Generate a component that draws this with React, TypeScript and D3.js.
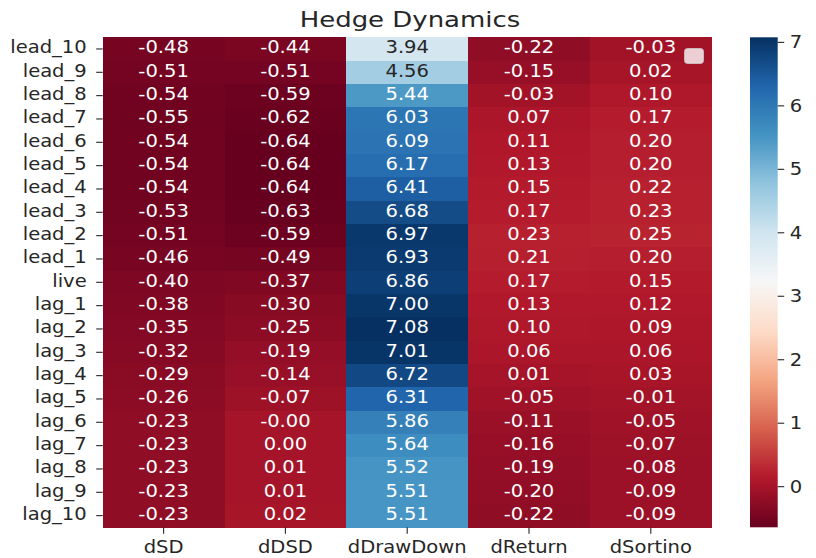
import React from "react";
import * as d3 from "d3";

const rows = ["lead_10","lead_9","lead_8","lead_7","lead_6","lead_5","lead_4","lead_3","lead_2","lead_1","live","lag_1","lag_2","lag_3","lag_4","lag_5","lag_6","lag_7","lag_8","lag_9","lag_10"];
const columns = ["dSD","dDSD","dDrawDown","dReturn","dSortino"];

const dSD = [-0.48,-0.51,-0.54,-0.55,-0.54,-0.54,-0.54,-0.53,-0.51,-0.46,-0.40,-0.38,-0.35,-0.32,-0.29,-0.26,-0.23,-0.23,-0.23,-0.23,-0.23];
const dDSD = [-0.44,-0.51,-0.59,-0.62,-0.64,-0.64,-0.64,-0.63,-0.59,-0.49,-0.37,-0.30,-0.25,-0.19,-0.14,-0.07,-0.001,0.00,0.01,0.01,0.02];
const dDrawDown = [3.94,4.56,5.44,6.03,6.09,6.17,6.41,6.68,6.97,6.93,6.86,7.00,7.08,7.01,6.72,6.31,5.86,5.64,5.52,5.51,5.51];
const dReturn = [-0.22,-0.15,-0.03,0.07,0.11,0.13,0.15,0.17,0.23,0.21,0.17,0.13,0.10,0.06,0.01,-0.05,-0.11,-0.16,-0.19,-0.20,-0.22];
const dSortino = [-0.03,0.02,0.10,0.17,0.20,0.20,0.22,0.23,0.25,0.20,0.15,0.12,0.09,0.06,0.03,-0.01,-0.05,-0.07,-0.08,-0.09,-0.09];

const seriesList = [dSD, dDSD, dDrawDown, dReturn, dSortino];
const cbarTicks = [0,1,2,3,4,5,6,7];
const title = "Hedge Dynamics";

const rdbu = ["#67001f","#b2182b","#d6604d","#f4a582","#fddbc7","#f7f7f7","#d1e5f0","#92c5de","#4393c3","#2166ac","#053061"];

export default function App() {
  const all = seriesList.flat();
  const vmin = d3.min(all) as number;
  const vmax = d3.max(all) as number;

  const left = 102.7, right = 711.7, top = 37.3, bottom = 527.3;
  const x = d3.scaleBand<string>().domain(columns).range([left, right]);
  const y = d3.scaleBand<string>().domain(rows).range([top, bottom]);
  const cmap = d3.scaleLinear<string>()
    .domain(d3.range(11).map(i => i / 10))
    .range(rdbu)
    .interpolate(d3.interpolateRgb)
    .clamp(true);
  const norm = d3.scaleLinear().domain([vmin, vmax]).range([0, 1]);
  const color = (v: number) => cmap(norm(v));

  const lum = (c: string) => {
    const rgb = d3.rgb(c);
    const f = (u: number) => {
      const s = u / 255;
      return s <= 0.03928 ? s / 12.92 : Math.pow((s + 0.055) / 1.055, 2.4);
    };
    return 0.2126 * f(rgb.r) + 0.7152 * f(rgb.g) + 0.0722 * f(rgb.b);
  };

  const cbX0 = 750, cbX1 = 777.7;
  const cbY = d3.scaleLinear().domain([vmin, vmax]).range([bottom, top]);
  const stops = d3.range(0, 101).map(i => i / 100);

  const font = "'DejaVu Sans', Verdana, sans-serif";
  const sx = 1.15;
  const fs = 17;
  const textCol = "#262626";

  return (
    <svg width={816} height={558} style={{ position: "absolute", left: 0, top: 0, background: "#fff" }} fontFamily={font}>
      <defs>
        <linearGradient id="cbar" x1="0" y1="1" x2="0" y2="0">
          {stops.map(s => (
            <stop key={s} offset={s} stopColor={cmap(s)} />
          ))}
        </linearGradient>
      </defs>

      {/* cells */}
      {columns.map((c, ci) =>
        rows.map((r, ri) => {
          const v = seriesList[ci][ri];
          return (
            <rect key={c + r} x={x(c)} y={y(r)} width={x.bandwidth() + 0.5} height={y.bandwidth() + 0.5}
              fill={color(v)} shapeRendering="crispEdges" />
          );
        })
      )}

      {/* annotations */}
      {columns.map((c, ci) =>
        rows.map((r, ri) => {
          const v = seriesList[ci][ri];
          const cx = (x(c) as number) + x.bandwidth() / 2;
          const cy = (y(r) as number) + y.bandwidth() / 2 + 4.3;
          return (
            <text key={"t" + c + r} transform={`translate(${cx},${cy}) scale(${sx},1)`} textAnchor="middle"
              fontSize={fs} fill={lum(color(v)) > 0.408 ? textCol : "#ffffff"}>
              {v.toFixed(2)}
            </text>
          );
        })
      )}

      {/* empty legend */}
      <rect x={684.5} y={48.5} width={19} height={15} rx={3} ry={3} fill="#ffffff" fillOpacity={0.8} stroke="#cccccc" strokeOpacity={0.8} />

      {/* y axis */}
      {rows.map(r => {
        const cy = (y(r) as number) + y.bandwidth() / 2;
        return (
          <g key={"y" + r}>
            <line x1={left - 6.5} x2={left} y1={cy} y2={cy} stroke={textCol} strokeWidth={1.1} />
            <text transform={`translate(${left - 16},${cy + 4.3}) scale(${sx},1)`} textAnchor="end" fontSize={fs} fill={textCol}>{r}</text>
          </g>
        );
      })}

      {/* x axis */}
      {columns.map(c => {
        const cx = (x(c) as number) + x.bandwidth() / 2;
        return (
          <g key={"x" + c}>
            <line x1={cx} x2={cx} y1={bottom} y2={bottom + 6.5} stroke={textCol} strokeWidth={1.1} />
            <text transform={`translate(${cx},${553}) scale(${sx},1)`} textAnchor="middle" fontSize={fs} fill={textCol}>{c}</text>
          </g>
        );
      })}

      {/* colorbar */}
      <rect x={cbX0} y={top} width={cbX1 - cbX0} height={bottom - top} fill="url(#cbar)" />
      {cbarTicks.map(t => {
        const ty = cbY(t);
        return (
          <g key={"cb" + t}>
            <line x1={cbX1} x2={cbX1 + 6.5} y1={ty} y2={ty} stroke={textCol} strokeWidth={1.1} />
            <text transform={`translate(${cbX1 + 12},${ty + 6}) scale(${sx},1)`} fontSize={fs} fill={textCol}>{t}</text>
          </g>
        );
      })}

      {/* title */}
      <text transform={`translate(${410},${26.5}) scale(1.18,1)`} textAnchor="middle" fontSize={22} fill={textCol}>{title}</text>
    </svg>
  );
}
